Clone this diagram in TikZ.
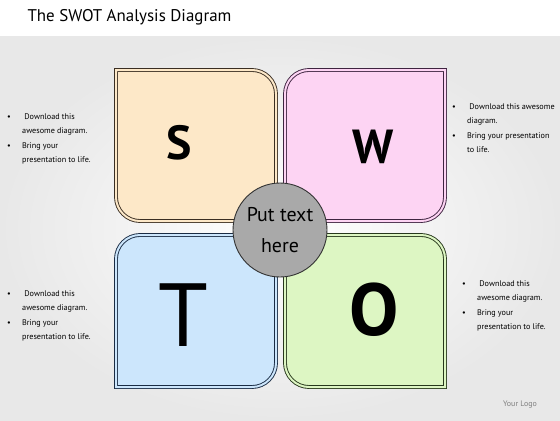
\documentclass[tikz,border=0pt]{standalone}
\usepackage{fontspec}
\setmainfont{PT Sans}
\usepackage{xcolor}
\usepackage{tikz}
\usetikzlibrary{shapes, arrows.meta}
\definecolor{sfill}{HTML}{FDE8C8}
\definecolor{sline}{HTML}{3A2E22}
\definecolor{wfill}{HTML}{FDD4F3}
\definecolor{wline}{HTML}{3E2440}
\definecolor{tfill}{HTML}{CCE6FC}
\definecolor{tline}{HTML}{1A2C44}
\definecolor{ofill}{HTML}{DDF6C3}
\definecolor{oline}{HTML}{27381C}
\definecolor{hubgray}{HTML}{A9A9A9}
\tikzset{
  leaf/.style={line width=0.9bp, double distance=2bp},
  letter/.style={font=\fontsize{#1}{#1}\selectfont\bfseries},
  note/.style={anchor=base west, inner sep=0pt, font=\fontsize{8.2}{14.6}\selectfont},
  hub/.style={circle, minimum size=94bp, inner sep=0pt, fill=hubgray, draw=black!80, line width=0.9bp, align=center, font=\fontsize{20}{31}\selectfont},
}
\newcommand{\bul}{\makebox[15bp][l]{\textbullet}}

\begin{document}
\begin{tikzpicture}[x=1bp, y=1bp]
\useasboundingbox (0,0) rectangle (560,420);
% background
\fill[white] (0,0) rectangle (560,420);
\shade[inner color=white, outer color=black!9] (0,0) rectangle (560,384);
\node[anchor=west, font=\fontsize{17}{17}\selectfont] (title) at (24,403) {The SWOT Analysis Diagram};
% the four boxes
\filldraw[leaf, fill=sfill, draw=sline, double=sfill] (116,350) -- (252,350) arc[start angle=90, end angle=0, radius=24] -- (276,199) -- (140,199) arc[start angle=270, end angle=180, radius=24] -- cycle;
\filldraw[leaf, fill=wfill, draw=wline, double=wfill] (285,199) -- (285,326) arc[start angle=180, end angle=90, radius=24] -- (445,350) -- (445,223) arc[start angle=0, end angle=-90, radius=24] -- cycle;
\filldraw[leaf, fill=tfill, draw=tline, double=tfill] (116,33) -- (252,33) arc[start angle=-90, end angle=0, radius=24] -- (276,185) -- (140,185) arc[start angle=90, end angle=180, radius=24] -- cycle;
\filldraw[leaf, fill=ofill, draw=oline, double=ofill] (285,185) -- (421,185) arc[start angle=90, end angle=0, radius=24] -- (445,33) -- (309,33) arc[start angle=270, end angle=180, radius=24] -- cycle;
\node[letter=48] (s) at (179,277) {S};
\node[letter=48] (w) at (373,273) {W};
\node[letter=90, font=\fontsize{90}{90}\selectfont\mdseries] (t) at (183,105) {T};
\node[letter=74] (o) at (374,110) {O};
% centre
\node[hub] (mid) at (280,190) {Put text\\here};
% side notes
\node[note] (lefttop) at (7,301) {\begin{tabular}[t]{@{}l@{}l@{}}\bul & \ Download this\\ & awesome diagram.\\ \bul & Bring your\\ & presentation to life.\end{tabular}};
\node[note] (righttop) at (452,311) {\begin{tabular}[t]{@{}l@{}l@{}}\bul & \ Download this awesome\\ & diagram.\\ \bul & Bring your presentation\\ & to life.\end{tabular}};
\node[note] (leftbot) at (7,124) {\begin{tabular}[t]{@{}l@{}l@{}}\bul & \ Download this\\ & awesome diagram.\\ \bul & Bring your\\ & presentation to life.\end{tabular}};
\node[note] (rightbot) at (462,134) {\begin{tabular}[t]{@{}l@{}l@{}}\bul & \ Download this\\ & awesome diagram.\\ \bul & Bring your\\ & presentation to life.\end{tabular}};
\node[font=\fontsize{8}{8}\selectfont, text=black!50] (logo) at (520,15) {Your Logo};
\end{tikzpicture}
\end{document}
